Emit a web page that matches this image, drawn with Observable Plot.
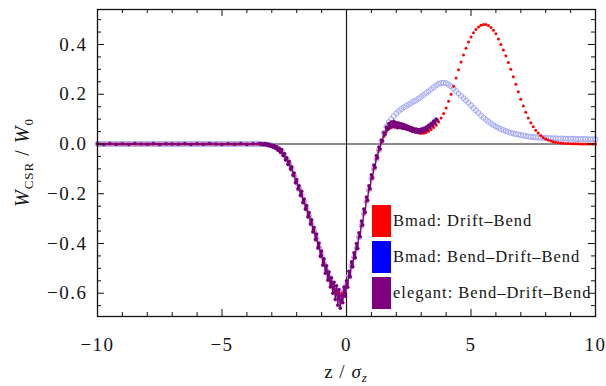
<!DOCTYPE html>
<html><head><meta charset="utf-8">
<script src="https://cdn.jsdelivr.net/npm/d3@7"></script>
<script src="https://cdn.jsdelivr.net/npm/@observablehq/plot@0.6"></script>
<style>
body{margin:0;background:#fff;}
#wrap{position:relative;width:606px;height:386px;font-family:"Liberation Serif","Times New Roman",serif;}
.box{position:absolute;left:372px;width:19px;height:32px;}
.lt{position:absolute;left:393px;height:32px;font-size:16.5px;letter-spacing:1px;line-height:32px;color:#151515;white-space:nowrap;}
</style></head><body><div id="wrap"></div>
<script>
// sample positions z/sigma_z for the Bmad curves
const zGrid = [
-10,-9.9,-9.8,-9.7,-9.6,-9.5,-9.4,-9.3,-9.2,-9.1,
-9,-8.9,-8.8,-8.7,-8.6,-8.5,-8.4,-8.3,-8.2,-8.1,
-8,-7.9,-7.8,-7.7,-7.6,-7.5,-7.4,-7.3,-7.2,-7.1,
-7,-6.9,-6.8,-6.7,-6.6,-6.5,-6.4,-6.3,-6.2,-6.1,
-6,-5.9,-5.8,-5.7,-5.6,-5.5,-5.4,-5.3,-5.2,-5.1,
-5,-4.9,-4.8,-4.7,-4.6,-4.5,-4.4,-4.3,-4.2,-4.1,
-4,-3.9,-3.8,-3.7,-3.6,-3.5,-3.4,-3.3,-3.2,-3.1,
-3,-2.9,-2.8,-2.7,-2.6,-2.5,-2.4,-2.3,-2.2,-2.1,
-2,-1.9,-1.8,-1.7,-1.6,-1.5,-1.4,-1.3,-1.2,-1.1,
-1,-0.9,-0.8,-0.7,-0.6,-0.5,-0.4,-0.3,-0.2,-0.1,
0,0.1,0.2,0.3,0.4,0.5,0.6,0.7,0.8,0.9,
1,1.1,1.2,1.3,1.4,1.5,1.6,1.7,1.8,1.9,
2,2.1,2.2,2.3,2.4,2.5,2.6,2.7,2.8,2.9,
3,3.1,3.2,3.3,3.4,3.5,3.6,3.7,3.8,3.9,
4,4.1,4.2,4.3,4.4,4.5,4.6,4.7,4.8,4.9,
5,5.1,5.2,5.3,5.4,5.5,5.6,5.7,5.8,5.9,
6,6.1,6.2,6.3,6.4,6.5,6.6,6.7,6.8,6.9,
7,7.1,7.2,7.3,7.4,7.5,7.6,7.7,7.8,7.9,
8,8.1,8.2,8.3,8.4,8.5,8.6,8.7,8.8,8.9,
9,9.1,9.2,9.3,9.4,9.5,9.6,9.7,9.8,9.9,
10];
// W_CSR/W0 common to both Bmad runs for z <= 1.3
const commonW = [
0,0,0,0,0,0,0,0,0,0,
0,0,0,0,0,0,0,0,0,0,
0,0,0,0,0,0,0,0,0,0,
0,0,0,0,0,0,0,0,0,0,
0,0,0,0,0,0,0,0,0,0,
0,0,0,0,0,0,0,0,0,0,
0,0,0,0,0,0,
-0.001,-0.001,-0.002,-0.004,-0.006,
-0.01,-0.015,-0.022,-0.03,-0.045,-0.062,-0.08,-0.10,-0.128,-0.155,
-0.18,-0.205,-0.232,-0.26,-0.29,-0.32,-0.35,-0.38,-0.415,-0.448,
-0.48,-0.51,-0.537,-0.56,-0.58,-0.592,-0.60,-0.60,-0.59,-0.565,
-0.53,-0.49,-0.455,-0.42,-0.375,-0.33,-0.28,-0.23,-0.185,-0.14,
-0.10,-0.06,-0.025];
// Bmad: Drift-Bend, z = 1.4 .. 10
const redTailW = [
0.005,0.03,0.048,0.06,0.066,0.069,0.07,0.069,0.068,0.066,
0.063,0.06,0.057,0.053,0.048,0.044,0.042,0.043,0.046,0.051,
0.058,0.066,0.075,0.088,0.105,0.123,0.145,0.172,0.20,0.232,
0.265,0.298,0.33,0.358,0.385,0.41,0.43,0.447,0.46,0.47,
0.477,0.48,0.48,0.476,0.468,0.457,0.443,0.422,0.40,0.378,
0.355,0.328,0.30,0.27,0.24,0.21,0.18,0.153,0.128,0.105,
0.085,0.069,0.055,0.044,0.034,0.026,0.02,0.016,0.012,0.009,
0.007,0.005,0.004,0.003,0.002,0.002,0.001,0.001,0.001,0.001,
0,0,0,0,0,0,0];
// Bmad: Bend-Drift-Bend, z = 1.4 .. 10
const blueTailW = [
0.01,0.045,0.07,0.088,0.10,0.112,0.123,0.132,0.14,0.147,
0.153,0.159,0.165,0.171,0.176,0.183,0.19,0.197,0.205,0.212,
0.22,0.228,0.235,0.241,0.245,0.246,0.244,0.239,0.232,0.223,
0.213,0.203,0.193,0.184,0.175,0.165,0.155,0.145,0.135,0.125,
0.115,0.106,0.098,0.09,0.083,0.076,0.07,0.065,0.06,0.056,
0.052,0.048,0.045,0.042,0.04,0.038,0.036,0.034,0.032,0.03,
0.029,0.028,0.027,0.026,0.025,0.025,0.024,0.024,0.023,0.023,
0.023,0.022,0.022,0.022,0.021,0.021,0.021,0.021,0.020,0.020,
0.020,0.020,0.020,0.019,0.019,0.019,0.019];
// elegant: Bend-Drift-Bend (noisy)
const purpleZ = [
-10,-9.75,-9.5,-9.25,-9,-8.75,-8.5,-8.25,-8,-7.75,-7.5,-7.25,-7,-6.75,-6.5,-6.25,-6,-5.75,-5.5,-5.25,-5,-4.75,-4.5,-4.25,-4,-3.75,
-3.5,-3.45,-3.4,-3.35,-3.3,-3.25,-3.2,-3.15,-3.1,-3.05,
-3,-2.95,-2.9,-2.85,-2.8,-2.75,-2.7,-2.65,-2.6,-2.55,
-2.5,-2.45,-2.4,-2.35,-2.3,-2.25,-2.2,-2.15,-2.1,-2.05,
-2,-1.95,-1.9,-1.85,-1.8,-1.75,-1.7,-1.65,-1.6,-1.55,
-1.5,-1.45,-1.4,-1.35,-1.3,-1.25,-1.2,-1.15,-1.1,-1.05,
-1,-0.95,-0.9,-0.85,-0.8,-0.75,-0.7,-0.65,-0.6,-0.55,
-0.5,-0.45,-0.4,-0.35,-0.3,-0.25,-0.2,-0.15,-0.1,-0.05,
0,0.05,0.1,0.15,0.2,0.25,0.3,0.35,0.4,0.45,
0.5,0.55,0.6,0.65,0.7,0.75,0.8,0.85,0.9,0.95,
1,1.05,1.1,1.15,1.2,1.25,1.3,1.35,1.4,1.45,
1.5,1.55,1.6,1.65,1.7,1.75,1.8,1.85,1.9,1.95,
2,2.05,2.1,2.15,2.2,2.25,2.3,2.35,2.4,2.45,
2.5,2.55,2.6,2.65,2.7,2.75,2.8,2.85,2.9,2.95,
3,3.05,3.1,3.15,3.2,3.25,3.3,3.35,3.4,3.45,
3.5,3.55,3.6,3.65];
const purpleW = [
0.001,-0.002,0.002,-0.001,0.001,-0.002,0.002,0,-0.001,0.002,-0.002,0.001,0,-0.001,0.002,-0.002,0.001,-0.001,0.002,0,-0.002,0.001,-0.001,0.002,-0.002,0.001,
0.002,-0.002,0.001,-0.003,0.002,-0.004,0.001,-0.006,-0.001,-0.009,
-0.004,-0.013,-0.006,-0.018,-0.011,-0.026,-0.017,-0.034,-0.022,-0.046,
-0.038,-0.064,-0.055,-0.082,-0.07,-0.101,-0.092,-0.125,-0.117,-0.156,
-0.143,-0.181,-0.168,-0.207,-0.19,-0.236,-0.221,-0.262,-0.247,-0.293,
-0.276,-0.322,-0.305,-0.354,-0.336,-0.385,-0.362,-0.418,-0.398,-0.452,
-0.43,-0.487,-0.462,-0.52,-0.49,-0.548,-0.515,-0.575,-0.538,-0.6,
-0.556,-0.625,-0.57,-0.648,-0.585,-0.66,-0.61,-0.638,-0.575,-0.612,
-0.55,-0.576,-0.512,-0.535,-0.474,-0.494,-0.437,-0.458,-0.4,-0.42,
-0.357,-0.373,-0.31,-0.326,-0.262,-0.274,-0.213,-0.226,-0.168,-0.18,
-0.124,-0.136,-0.085,-0.094,-0.046,-0.055,-0.012,-0.02,0.016,0.012,
0.045,0.038,0.068,0.058,0.082,0.066,0.088,0.07,0.091,0.068,
0.086,0.065,0.084,0.066,0.081,0.063,0.078,0.061,0.074,0.058,
0.07,0.054,0.066,0.05,0.062,0.048,0.06,0.047,0.058,0.046,
0.06,0.048,0.063,0.052,0.068,0.057,0.075,0.066,0.083,0.074,
0.092,0.084,0.1,0.095];

const xMajor = [-10,-5,0,5,10];
const xMinor = [-9,-8,-7,-6,-4,-3,-2,-1,1,2,3,4,6,7,8,9];
const yMajor = [-0.6,-0.4,-0.2,0,0.2,0.4];
const yMinor = [-0.65,-0.55,-0.5,-0.45,-0.35,-0.3,-0.25,-0.15,-0.1,-0.05,0.05,0.1,0.15,0.25,0.3,0.35,0.45,0.5];
const legendLabels = ["Bmad: Drift\u2013Bend","Bmad: Bend\u2013Drift\u2013Bend","elegant: Bend\u2013Drift\u2013Bend"];
const legendColors = ["#ff0000","#0000ff","#7e007e"];

const nCommon = commonW.length;
const red = zGrid.map((z,i) => ({z, w: i < nCommon ? commonW[i] : redTailW[i - nCommon]}));
const blue = zGrid.map((z,i) => ({z, w: i < nCommon ? commonW[i] : blueTailW[i - nCommon]}));
const purple = purpleZ.map((z,i) => ({z, w: purpleW[i]}));

const W = 606, H = 386, mL = 97, mR = 11, mT = 9, mB = 70;
const pw = W - mL - mR, ph = H - mT - mB;

const chart = Plot.plot({
  width: W, height: H,
  marginLeft: mL, marginRight: mR, marginTop: mT, marginBottom: mB,
  style: {fontFamily: "'Liberation Serif', 'Times New Roman', serif", fontSize: "19px", background: "white", color: "#151515", letterSpacing: "1.5px"},
  x: {domain: [-10, 10]},
  y: {domain: [-0.6935, 0.5407]},
  marks: [
    Plot.ruleX([0], {stroke: "#1a1a1a", strokeWidth: 1.2}),
    Plot.ruleY([0], {stroke: "#1a1a1a", strokeWidth: 1.2}),
    Plot.dot(blue, {x: "z", y: "w", r: 2.5, stroke: "#a0a6f7", strokeWidth: 1, fill: "none"}),
    Plot.dot(red, {x: "z", y: "w", r: 1.5, fill: "#ff0000", stroke: "none"}),
    Plot.line(purple, {x: "z", y: "w", stroke: "#800080", strokeWidth: 1.4}),
    Plot.dot(purple, {x: "z", y: "w", r: 1.8, fill: "#76007a", stroke: "none"}),
    Plot.tickX(xMajor, {insetTop: ph - 7, stroke: "#111"}),
    Plot.tickX(xMinor, {insetTop: ph - 4, stroke: "#111"}),
    Plot.tickX(xMajor, {insetBottom: ph - 7, stroke: "#111"}),
    Plot.tickX(xMinor, {insetBottom: ph - 4, stroke: "#111"}),
    Plot.tickY(yMajor, {insetRight: pw - 7, stroke: "#111"}),
    Plot.tickY(yMinor, {insetRight: pw - 4, stroke: "#111"}),
    Plot.tickY(yMajor, {insetLeft: pw - 7, stroke: "#111"}),
    Plot.tickY(yMinor, {insetLeft: pw - 4, stroke: "#111"}),
    Plot.axisX(xMajor, {anchor: "bottom", tickSize: 0, tickPadding: 21, tickFormat: d3.format("d"), label: null}),
    Plot.axisY(yMajor, {anchor: "left", tickSize: 0, tickPadding: 10, tickFormat: d3.format(".1f"), label: null}),
    Plot.frame({stroke: "#111", strokeWidth: 1.3})
  ]
});

const svg = d3.select(chart);
// x-axis title: z / σ_z
const xt = svg.append("text").attr("x", mL + pw / 2).attr("y", 378).attr("text-anchor", "middle")
  .attr("font-family", "'Liberation Serif', 'Times New Roman', serif").attr("font-size", 19).attr("fill", "#151515").attr("letter-spacing", "1px");
xt.append("tspan").text("z / ");
xt.append("tspan").attr("font-style", "italic").text("\u03c3");
xt.append("tspan").attr("font-style", "italic").attr("font-size", 13).attr("dy", 4).text("z");
// y-axis title: W_CSR / W_0
const yt = svg.append("text").attr("transform", `translate(29,${mT + ph / 2}) rotate(-90)`).attr("text-anchor", "middle")
  .attr("font-family", "'Liberation Serif', 'Times New Roman', serif").attr("font-size", 20).attr("fill", "#151515").attr("letter-spacing", "1px");
yt.append("tspan").attr("font-style", "italic").text("W");
yt.append("tspan").attr("font-size", 13).attr("dy", 4).text("CSR");
yt.append("tspan").attr("dy", -4).text(" / ");
yt.append("tspan").attr("font-style", "italic").text("W");
yt.append("tspan").attr("font-size", 13).attr("dy", 4).text("0");

const wrap = document.getElementById("wrap");
wrap.appendChild(chart);
legendLabels.forEach((lab, i) => {
  const b = document.createElement("div");
  b.className = "box";
  b.style.top = (205 + i * 36) + "px";
  b.style.background = legendColors[i];
  wrap.appendChild(b);
  const t = document.createElement("div");
  t.className = "lt";
  t.style.top = (205 + i * 36) + "px";
  t.textContent = lab;
  wrap.appendChild(t);
});
</script></body></html>
